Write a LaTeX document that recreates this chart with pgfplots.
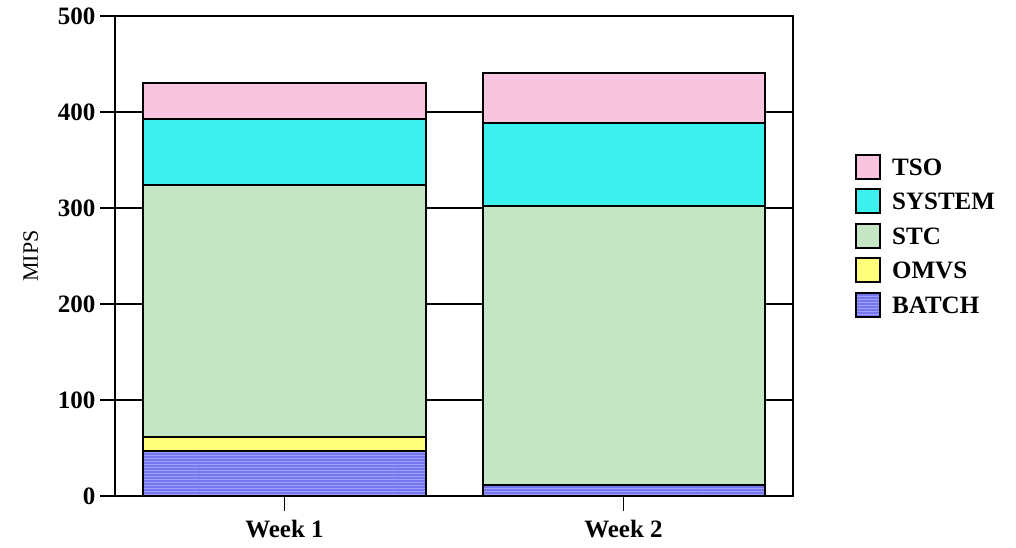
\documentclass[border=0pt]{standalone}
\usepackage{pgfplots}
\pgfplotsset{compat=1.18}
\usepackage{pgfplotstable}
\usepackage{fontspec}
\setmainfont{Liberation Serif}
\usetikzlibrary{patterns}

\definecolor{tsoPink}{RGB}{248,196,222}
\definecolor{sysCyan}{RGB}{60,240,238}
\definecolor{stcGreen}{RGB}{196,230,196}
\definecolor{omvsYellow}{RGB}{255,255,122}
\definecolor{batchBlue}{RGB}{118,118,240}
\definecolor{batchStripe}{RGB}{160,160,255}

% MIPS by workload, stacked per week
\pgfplotstableread{
week batch omvs stc system tso
1    47    14   263   69    37
2    11.5  0    290.5 87    51.5
}\mipsdata

\pgfplotsset{
  sq/.style={legend image code/.code={%
    \draw[##1, line width=2bp] (0bp,-12bp) rectangle (24bp,12bp);}},
}

\begin{document}
\begin{tikzpicture}
\useasboundingbox (-115bp,-52bp) rectangle (901bp,496bp);
\begin{axis}[
  scale only axis, width=678bp, height=480bp,
  at={(0,0)}, anchor=south west,
  ybar stacked, bar width=282bp,
  xmin=0.5, xmax=2.5, ymin=0, ymax=500,
  xtick={1,2}, xticklabels={Week 1, Week 2},
  ytick={0,100,...,500},
  ytick pos=left, xtick pos=bottom,
  tick align=outside, major tick length=15bp,
  tick style={black, line width=1.6bp},
  axis line style={black, line width=2.2bp},
  ymajorgrids, grid style={black, line width=1.2bp},
  /pgf/number format/assume math mode=true,
  ticklabel style={font=\fontsize{25bp}{29bp}\selectfont\bfseries},
  yticklabel style={xshift=-1bp},
  xticklabel style={yshift=-6bp},
  ylabel={MIPS},
  ylabel style={font=\fontsize{22bp}{26bp}\selectfont, yshift=13bp},
  reverse legend,
  legend style={at={(axis description cs:1.0914,0.5417)}, anchor=west,
    draw=none, fill=none, inner sep=0pt, row sep=8.5bp, column sep=11bp,
    font=\fontsize{25bp}{29bp}\selectfont\bfseries,
    nodes={inner sep=0pt, text height=17bp, text depth=0bp}},
  legend cell align=left,
]
\addplot[sq, draw=black, line width=2bp, fill=batchBlue,
  postaction={pattern=horizontal lines, pattern color=batchStripe}]
  table[x=week, y=batch] {\mipsdata};
\addlegendentry{BATCH}
\addplot[sq, draw=black, line width=2bp, fill=omvsYellow]
  table[x=week, y=omvs] {\mipsdata};
\addlegendentry{OMVS}
\addplot[sq, draw=black, line width=2bp, fill=stcGreen]
  table[x=week, y=stc] {\mipsdata};
\addlegendentry{STC}
\addplot[sq, draw=black, line width=2bp, fill=sysCyan]
  table[x=week, y=system] {\mipsdata};
\addlegendentry{SYSTEM}
\addplot[sq, draw=black, line width=2bp, fill=tsoPink]
  table[x=week, y=tso] {\mipsdata};
\addlegendentry{TSO}
\end{axis}
\end{tikzpicture}
\end{document}
